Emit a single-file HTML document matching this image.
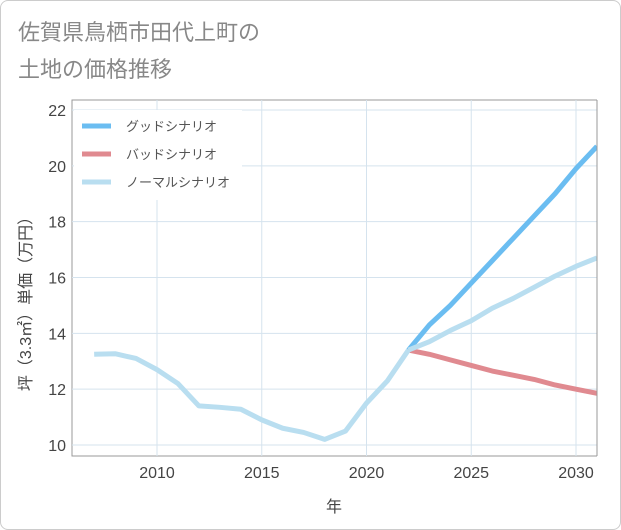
<!DOCTYPE html>
<html><head><meta charset="utf-8"><style>
body{margin:0;background:#fff;font-family:"Liberation Sans","Noto Sans CJK JP",sans-serif}
#wrap{position:relative;width:621px;height:530px;box-sizing:border-box;border:1px solid #ccc;border-radius:8px;overflow:hidden;background:#fff}
</style></head><body>
<div id="wrap">
<svg id="chart" width="621" height="530" style="position:absolute;left:-1px;top:-1px">
<text x="18" y="40" font-size="22" fill="#888">佐賀県鳥栖市田代上町の</text>
<text x="18" y="77" font-size="22" fill="#888">土地の価格推移</text>
<g id="grid"></g><g id="series"></g><g id="axes"></g>
</svg>
</div>
<script>
const years=[2007,2008,2009,2010,2011,2012,2013,2014,2015,2016,2017,2018,2019,2020,2021,2022];
const histValues=[13.25,13.27,13.1,12.7,12.2,11.4,11.35,11.28,10.9,10.6,10.45,10.2,10.5,11.5,12.3,13.4];
const futureYears=[2022,2023,2024,2025,2026,2027,2028,2029,2030,2031];
const goodValues=[13.4,14.3,15.0,15.8,16.6,17.4,18.2,19.0,19.9,20.7];
const badValues=[13.4,13.25,13.05,12.85,12.65,12.5,12.35,12.15,12.0,11.85];
const normalValues=[13.4,13.7,14.1,14.45,14.9,15.25,15.65,16.05,16.4,16.7];
const xTicks=[2010,2015,2020,2025,2030];
const yTicks=[10,12,14,16,18,20,22];
const NS="http://www.w3.org/2000/svg";
const L=72,R=597,T=100,B=456;
const xs=v=>157+(v-2010)*(576-157)/20;
const ys=v=>445-(v-10)*(445-110)/12;
function mk(tag,attrs,parent){const e=document.createElementNS(NS,tag);for(const k in attrs)e.setAttribute(k,attrs[k]);parent.appendChild(e);return e;}
const grid=document.getElementById('grid'),ser=document.getElementById('series'),ax=document.getElementById('axes');
mk('rect',{x:L,y:T,width:R-L,height:B-T,fill:'#fff',stroke:'#999','stroke-width':1},grid);
xTicks.forEach(t=>{const l=mk('line',{x1:xs(t),x2:xs(t),y1:T,y2:B,stroke:'#d5e3ee'},grid);

const tx=mk('text',{x:xs(t),y:B+22,'text-anchor':'middle','font-size':16,fill:'#444'},ax);tx.textContent=t;
});
yTicks.forEach(t=>{const l=mk('line',{x1:L,x2:R,y1:ys(t),y2:ys(t),stroke:'#d5e3ee'},grid);

const tx=mk('text',{x:L-6,y:ys(t)+6,'text-anchor':'end','font-size':16,fill:'#444'},ax);tx.textContent=t;
});
function line(xv,yv,color,name){const d=xv.map((x,i)=>(i?'L':'M')+xs(x)+','+ys(yv[i])).join(' ');
const p=mk('path',{d:d,fill:'none',stroke:color,'stroke-width':5,'stroke-linejoin':'round'},ser);
}
line(futureYears,goodValues,'#6bbdf1','good-scenario-line');
line(futureYears,badValues,'#e08a90','bad-scenario-line');
line(futureYears,normalValues,'#b9def0','normal-scenario-line');
line(years,histValues,'#b9def0','historical-line');
const cp=mk('rect',{x:R,y:T-5,width:30,height:B-T+10,fill:'#fff'},ser);
mk('line',{x1:R,x2:R,y1:T,y2:B,stroke:'#999'},ser);
const lg=mk('g',{},ax);
mk('rect',{x:74,y:110,width:168,height:90,fill:'#fff'},lg);
[['グッドシナリオ','#6bbdf1',126],['バッドシナリオ','#e08a90',154],['ノーマルシナリオ','#b9def0',182]].forEach(([n,c,y])=>{
const e=mk('g',{},lg);
mk('line',{x1:82,x2:111,y1:y,y2:y,stroke:c,'stroke-width':5},e);
const t=mk('text',{x:126,y:y+5,'font-size':13,fill:'#555'},e);t.textContent=n;});
const xt=mk('text',{x:334,y:512,'text-anchor':'middle','font-size':16,fill:'#444'},ax);xt.textContent='年';

const yt=mk('text',{x:0,y:0,'text-anchor':'middle','font-size':16,fill:'#444',transform:'translate(31,300) rotate(-90)'},ax);yt.textContent='坪（3.3㎡）単価（万円）';

</script>
</body></html>
